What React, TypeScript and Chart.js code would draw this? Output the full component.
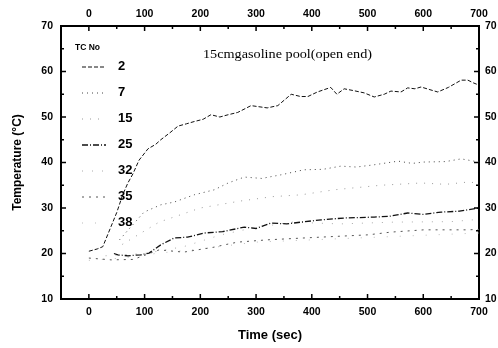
import React, { useEffect, useRef } from 'react';
import { Chart, registerables } from 'chart.js';

Chart.register(...registerables);

// ---- Data ----
const tcLabels = ['2', '7', '15', '25', '32', '35', '38'];

const tc2Time = [0, 15, 25, 40, 50, 61, 70, 79, 90, 106, 120, 129, 145, 160, 175, 189, 205, 219, 235, 250, 267, 291, 320, 339, 363, 380, 393, 410, 434, 445, 458, 475, 494, 512, 530, 542, 560, 572, 585, 596, 612, 626, 645, 668, 680, 690, 700];
const tc2Temp = [20.5, 21, 21.5, 26, 29, 33, 35.5, 37.5, 40.5, 43, 44, 45, 46.5, 48, 48.5, 49, 49.5, 50.5, 50, 50.5, 51, 52.5, 52, 52.5, 55, 54.5, 54.5, 55.5, 56.5, 55, 56.2, 55.8, 55.3, 54.4, 55, 55.7, 55.5, 56.4, 56.2, 56.6, 56, 55.5, 56.5, 58.1, 58.1, 57.5, 57];

const tc7Time = [55, 75, 99, 129, 153, 189, 225, 250, 279, 310, 345, 386, 420, 452, 480, 512, 555, 580, 601, 640, 668, 700];
const tc7Temp = [23, 25.8, 29.1, 30.7, 31.3, 32.9, 34, 35.5, 36.8, 36.5, 37.3, 38.4, 38.5, 39.2, 39, 39.5, 40.3, 39.8, 40.1, 40.2, 40.8, 40.1];

const tc15Time = [60, 126, 200, 270, 330, 381, 440, 524, 596, 640, 680, 700];
const tc15Temp = [22, 26.9, 30, 31.5, 32.5, 32.9, 34, 35, 35.5, 35.2, 35.7, 35.5];

const tc25Time = [45, 52, 70, 93, 108, 129, 153, 177, 207, 240, 279, 300, 327, 355, 381, 417, 458, 512, 540, 572, 600, 632, 665, 700];
const tc25Temp = [20, 19.7, 19.5, 19.7, 20.1, 21.9, 23.4, 23.6, 24.5, 24.8, 25.8, 25.5, 26.7, 26.5, 26.9, 27.4, 27.8, 28, 28.2, 28.9, 28.6, 29.1, 29.3, 30];

const tc32Time = [30, 100, 170, 237, 290, 363, 450, 548, 650, 700];
const tc32Temp = [19.5, 20, 21.5, 24.1, 25.5, 26.9, 26.5, 26.9, 27, 27.5];

const tc35Time = [0, 40, 80, 126, 170, 225, 243, 267, 320, 400, 501, 542, 601, 680, 700];
const tc35Temp = [19, 18.6, 18.7, 20.8, 20.3, 21.4, 21.9, 22.5, 23, 23.5, 24.1, 24.7, 25.2, 25.2, 25.3];

const tc38Time = [0, 60, 120, 200, 300, 400, 500, 600, 700];
const tc38Temp = [18.5, 19, 20, 21, 22.5, 23, 23.5, 24, 24.5];

const seriesTimes = [tc2Time, tc7Time, tc15Time, tc25Time, tc32Time, tc35Time, tc38Time];
const seriesTemps = [tc2Temp, tc7Temp, tc15Temp, tc25Temp, tc32Temp, tc35Temp, tc38Temp];

const xMin = -50;
const xMax = 700;
const yMin = 10;
const yMax = 70;
const annotationText = '15cmgasoline pool(open end)';
const legendTitle = 'TC No';

// ---- Styles ----
const lineStyles = [
  { color: '#111', dash: [4, 2], width: 1 },
  { color: '#444', dash: [1, 4], width: 1 },
  { color: '#999', dash: [1, 7], width: 1 },
  { color: '#111', dash: [6, 2, 1, 2], width: 1.3 },
  { color: '#aaa', dash: [1, 9], width: 1 },
  { color: '#555', dash: [2, 5], width: 1 },
  { color: '#bbb', dash: [1, 12], width: 1 },
];

const FONT_SANS = '"Liberation Sans", Arial, sans-serif';
const FONT_SERIF = '"Liberation Serif", "Times New Roman", serif';

const decorPlugin = {
  id: 'decor',
  afterDraw(chart: any) {
    const ctx = chart.ctx;
    const { top, bottom, left, right } = chart.chartArea;
    const xs = chart.scales.x;
    const ys = chart.scales.y;
    ctx.save();
    ctx.strokeStyle = '#000';
    ctx.lineWidth = 1.5;
    ctx.setLineDash([]);
    // inward ticks on x axes (bottom and top)
    for (let v = 0; v <= xMax; v += 50) {
      const px = xs.getPixelForValue(v);
      const len = v % 100 === 0 ? 5 : 3;
      ctx.beginPath();
      ctx.moveTo(px, bottom);
      ctx.lineTo(px, bottom - len);
      ctx.moveTo(px, top);
      ctx.lineTo(px, top + len);
      ctx.stroke();
    }
    // inward ticks on y axes (left and right)
    for (let v = yMin + 5; v < yMax; v += 5) {
      const py = ys.getPixelForValue(v);
      const len = v % 10 === 0 ? 5 : 3;
      ctx.beginPath();
      ctx.moveTo(left, py);
      ctx.lineTo(left + len, py);
      ctx.moveTo(right, py);
      ctx.lineTo(right - len, py);
      ctx.stroke();
    }

    // legend
    ctx.fillStyle = '#000';
    ctx.textBaseline = 'middle';
    ctx.textAlign = 'left';
    ctx.font = `bold 8.5px ${FONT_SANS}`;
    ctx.fillText(legendTitle, 75, 48);
    const ds = chart.data.datasets;
    ds.forEach((d: any, i: number) => {
      const y = 66 + i * 26;
      ctx.save();
      ctx.strokeStyle = d.borderColor;
      ctx.lineWidth = d.borderWidth;
      ctx.setLineDash(d.borderDash || []);
      ctx.beginPath();
      ctx.moveTo(82, y + 1);
      ctx.lineTo(106, y + 1);
      ctx.stroke();
      ctx.restore();
      ctx.font = `bold 13px ${FONT_SANS}`;
      ctx.fillStyle = '#000';
      ctx.fillText(d.label, 118, y);
    });

    // annotation
    ctx.font = `13px ${FONT_SERIF}`;
    const w = ctx.measureText(annotationText).width;
    const target = 169;
    ctx.save();
    ctx.translate(203, 55);
    ctx.scale(target / w, 1);
    ctx.fillText(annotationText, 0, 0);
    ctx.restore();
    ctx.restore();
  },
};

const tickFont = { family: FONT_SANS, size: 10.5, weight: 'bold' as const };

export default function App() {
  const ref = useRef<HTMLCanvasElement>(null);
  useEffect(() => {
    document.body.style.margin = '0';
    const datasets = tcLabels.map((lab, i) => ({
      label: lab,
      data: seriesTimes[i].map((t, j) => ({ x: t, y: seriesTemps[i][j] })),
      borderColor: lineStyles[i].color,
      borderDash: lineStyles[i].dash,
      borderWidth: lineStyles[i].width,
      pointRadius: 0,
      fill: false,
      tension: 0,
    }));
    const xTickCb = (v: any) => (Number(v) % 100 === 0 && Number(v) >= 0 ? String(v) : '');
    const yTickCb = (v: any) => (Number(v) % 10 === 0 ? String(v) : '');
    const chart = new Chart(ref.current!, {
      type: 'line',
      data: { datasets },
      plugins: [decorPlugin],
      options: {
        animation: false,
        responsive: false,
        devicePixelRatio: 1,
        layout: { padding: 0 },
        plugins: { legend: { display: false }, tooltip: { enabled: false } },
        scales: {
          x: {
            type: 'linear', position: 'bottom', min: xMin, max: xMax,
            grid: { display: false, drawTicks: false },
            border: { display: true, width: 2, color: '#000' },
            ticks: { stepSize: 50, callback: xTickCb, font: tickFont, color: '#000', padding: 7, maxRotation: 0, autoSkip: false },
            title: { display: true, text: 'Time (sec)', font: { family: FONT_SANS, size: 13, weight: 'bold' }, color: '#000', padding: { top: 0, bottom: 5 } },
            afterFit: (s: any) => { s.height = 49; },
          },
          x2: {
            type: 'linear', position: 'top', min: xMin, max: xMax,
            grid: { display: false, drawTicks: false },
            border: { display: true, width: 2, color: '#000' },
            ticks: { stepSize: 50, callback: xTickCb, font: tickFont, color: '#000', padding: 6, maxRotation: 0, autoSkip: false },
            afterFit: (s: any) => { s.height = 26; },
          },
          y: {
            type: 'linear', position: 'left', min: yMin, max: yMax,
            grid: { display: false, drawTicks: false },
            border: { display: true, width: 2, color: '#000' },
            ticks: { stepSize: 5, callback: yTickCb, font: tickFont, color: '#000', padding: 8, autoSkip: false },
            title: { display: true, text: 'Temperature (°C)', font: { family: FONT_SANS, size: 12, weight: 'bold' }, color: '#000', padding: { top: 10, bottom: 0 } },
            afterFit: (s: any) => { s.width = 61; },
          },
          y2: {
            type: 'linear', position: 'right', min: yMin, max: yMax,
            grid: { display: false, drawTicks: false },
            border: { display: true, width: 2, color: '#000' },
            ticks: { stepSize: 5, callback: yTickCb, font: tickFont, color: '#000', padding: 6, autoSkip: false },
            afterFit: (s: any) => { s.width = 19; },
          },
        },
      },
    } as any);
    return () => chart.destroy();
  }, []);
  return (
    <div style={{ position: 'fixed', left: 0, top: 0, width: 498, height: 348, background: '#fff' }}>
      <canvas ref={ref} width={498} height={348} style={{ width: 498, height: 348, display: 'block' }} />
    </div>
  );
}
